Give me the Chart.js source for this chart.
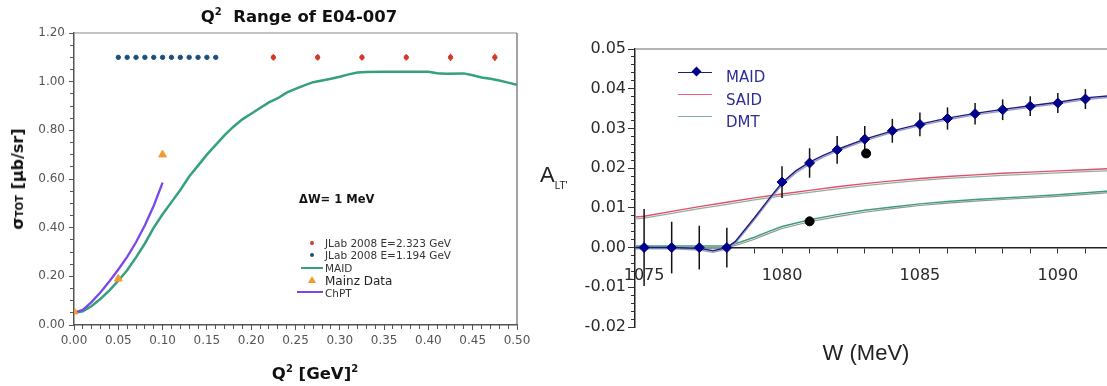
<!DOCTYPE html>
<html><head><meta charset="utf-8">
<script src="https://cdn.jsdelivr.net/npm/chart.js@4.4.1/dist/chart.umd.min.js"></script>
<style>
html,body{margin:0;padding:0;background:#fff;width:1107px;height:386px;overflow:hidden;position:relative;font-family:"DejaVu Sans",Verdana,sans-serif}
canvas{position:absolute;top:0}
.t{position:absolute;white-space:nowrap;line-height:1;transform:translateY(-50%)}
.c{transform:translate(-50%,-50%)}
.ln{position:absolute}
</style></head><body>
<canvas id="c1" width="540" height="386" style="left:0"></canvas>
<canvas id="c2" width="587" height="386" style="left:540px"></canvas>

<!-- left panel texts -->
<div class="t c" style="left:299px;top:16px;font-weight:bold;font-size:16.5px;color:#111">Q<sup style="font-size:10px;vertical-align:7px">2</sup>&nbsp; Range of E04-007</div>
<div class="t c" style="left:315px;top:373px;font-weight:bold;font-size:16.5px;color:#111">Q<sup style="font-size:10px;vertical-align:7px">2</sup> [GeV]<sup style="font-size:10px;vertical-align:7px">2</sup></div>
<div class="t" style="left:18px;top:179px;font-weight:bold;font-size:16px;color:#111;transform:translate(-50%,-50%) rotate(-90deg)">σ<span style="font-size:10px">TOT</span> [μb/sr]</div>
<div class="t" style="left:299px;top:200px;font-weight:bold;font-size:11.5px;color:#111">ΔW= 1 MeV</div>

<!-- left legend -->
<div class="ln" style="left:310px;top:241px;width:4px;height:4px;border-radius:2px;background:#d23a2a"></div>
<div class="t" style="left:325px;top:243px;font-size:10.5px;color:#333">JLab 2008 E=2.323 GeV</div>
<div class="ln" style="left:310px;top:252.5px;width:4px;height:4px;border-radius:2px;background:#1c4f7c"></div>
<div class="t" style="left:325px;top:255px;font-size:10.5px;color:#333">JLab 2008 E=1.194 GeV</div>
<div class="ln" style="left:301px;top:266.5px;width:22px;height:2.5px;background:#35a07e"></div>
<div class="t" style="left:325px;top:268px;font-size:10.5px;color:#333">MAID</div>
<div class="ln" style="left:307.5px;top:276px;width:0;height:0;border-left:4px solid transparent;border-right:4px solid transparent;border-bottom:7px solid #f29a2e"></div>
<div class="t" style="left:325px;top:280.5px;font-size:12px;color:#222">Mainz Data</div>
<div class="ln" style="left:297px;top:290.5px;width:26px;height:2.5px;background:#7a48ea"></div>
<div class="t" style="left:325px;top:292.5px;font-size:10.5px;color:#333">ChPT</div>

<!-- right panel texts -->
<div class="t" style="left:540px;top:177px;font-family:'Liberation Sans',Arial,sans-serif;font-size:22px;color:#222">A<span style="font-size:10px;vertical-align:-7px">LT'</span></div>
<div class="t c" style="left:866px;top:353px;font-family:'Liberation Sans',Arial,sans-serif;font-size:22px;color:#222">W (MeV)</div>

<!-- right legend -->
<div class="ln" style="left:678px;top:71.5px;width:34px;height:1.8px;background:#1c1c80"></div>
<div class="ln" style="left:692.5px;top:68px;width:7px;height:7px;background:#00008b;transform:rotate(45deg)"></div>
<div class="t" style="left:726px;top:77px;font-size:15px;color:#2e2e96">MAID</div>
<div class="ln" style="left:678px;top:93.5px;width:34px;height:1.5px;background:#e8607a"></div>
<div class="t" style="left:726px;top:99.5px;font-size:15px;color:#2e2e96">SAID</div>
<div class="ln" style="left:678px;top:115.5px;width:34px;height:1.5px;background:#7fb09c"></div>
<div class="t" style="left:726px;top:122px;font-size:15px;color:#2e2e96">DMT</div>

<script>
// ---------------- Left panel data ----------------
const q2Jlab1194 = [0.05,0.06,0.07,0.08,0.09,0.10,0.11,0.12,0.13,0.14,0.15,0.16];
const sigJlab1194 = [1.10,1.10,1.10,1.10,1.10,1.10,1.10,1.10,1.10,1.10,1.10,1.10];
const q2Jlab2323 = [0.225,0.275,0.325,0.375,0.425,0.475];
const sigJlab2323 = [1.10,1.10,1.10,1.10,1.10,1.10];
const errJlab2323 = [0.013,0.013,0.013,0.013,0.015,0.015];
const q2Mainz = [0.0,0.05,0.10];
const sigMainz = [0.055,0.19,0.70];
const q2Maid = [0.000,0.010,0.020,0.030,0.040,0.050,0.060,0.070,0.080,0.090,0.100,0.110,0.120,0.130,0.140,0.150,0.160,0.170,0.180,0.190,0.200,0.210,0.220,0.230,0.240,0.250,0.260,0.270,0.280,0.290,0.300,0.310,0.320,0.330,0.350,0.380,0.400,0.410,0.420,0.440,0.450,0.460,0.470,0.480,0.490,0.500];
const sigMaid = [0.050,0.056,0.078,0.108,0.142,0.182,0.225,0.278,0.335,0.400,0.455,0.505,0.555,0.610,0.655,0.700,0.740,0.780,0.815,0.845,0.868,0.892,0.915,0.932,0.955,0.970,0.985,0.998,1.005,1.012,1.020,1.030,1.038,1.040,1.041,1.041,1.041,1.035,1.033,1.034,1.026,1.017,1.012,1.005,0.996,0.987];
const q2Chpt = [0.00,0.01,0.02,0.03,0.04,0.05,0.06,0.07,0.08,0.09,0.10];
const sigChpt = [0.050,0.062,0.095,0.135,0.180,0.228,0.280,0.340,0.410,0.490,0.585];
const leftXTicks = {min:0, max:0.5, major:0.05, minor:0.01};
const leftYTicks = {min:0, max:1.2, major:0.2, minor:0.05};

// ---------------- Right panel data ----------------
const wMaidPts = [1075,1076,1077,1078,1080,1081,1082,1083,1084,1085,1086,1087,1088,1089,1090,1091];
const aMaidPts = [0,0,0,0,0.0165,0.0213,0.0246,0.0273,0.0294,0.0310,0.0325,0.0337,0.0347,0.0356,0.0364,0.0374];
const errMaidPts = [0.0097,0.0065,0.0055,0.0050,0.0040,0.0037,0.0035,0.0033,0.0030,0.0030,0.0028,0.0027,0.0026,0.0025,0.0025,0.0025];
const wMaidCurve = [1074.7,1075,1076,1077,1077.5,1078,1078.3,1079,1079.5,1080,1080.5,1081,1081.5,1082,1083,1084,1085,1086,1087,1088,1089,1090,1091,1092];
const aMaidCurve = [0,0,0,-0.0002,-0.0008,0,0.0015,0.0075,0.0120,0.0163,0.0193,0.0215,0.0232,0.0247,0.0273,0.0294,0.0311,0.0326,0.0338,0.0348,0.0357,0.0366,0.0377,0.0383];
const aMaidCurve2 = [-0.0003,-0.0003,-0.0003,-0.0006,-0.0012,-0.0004,0.0010,0.0070,0.0115,0.0158,0.0188,0.0210,0.0228,0.0243,0.0269,0.0290,0.0307,0.0322,0.0334,0.0344,0.0353,0.0362,0.0373,0.0379];
const wSaid = [1074.7,1075,1076,1077,1078,1079,1080,1081,1082,1083,1084,1085,1086,1087,1088,1089,1090,1091,1092];
const aSaid = [0.0077,0.0079,0.0091,0.0103,0.0114,0.0125,0.0135,0.0144,0.0153,0.0161,0.0168,0.0174,0.0179,0.0183,0.0187,0.0190,0.0193,0.0196,0.0199];
const aSaid2 = [0.0072,0.0074,0.0086,0.0098,0.0109,0.0120,0.0130,0.0139,0.0148,0.0156,0.0163,0.0169,0.0174,0.0178,0.0182,0.0185,0.0188,0.0191,0.0194];
const wDmt = [1074.7,1075,1076,1077,1078,1078.5,1079,1079.5,1080,1081,1082,1083,1084,1085,1086,1087,1088,1089,1090,1091,1092];
const aDmt = [0.0004,0.0004,0.0004,0.0004,0.0004,0.0014,0.0026,0.0040,0.0053,0.0070,0.0083,0.0094,0.0102,0.0110,0.0116,0.0121,0.0125,0.0129,0.0133,0.0138,0.0143];
const aDmt2 = [0,0,0,0,0,0.0009,0.0021,0.0035,0.0048,0.0065,0.0078,0.0089,0.0098,0.0106,0.0112,0.0117,0.0121,0.0125,0.0129,0.0134,0.0139];
const wBlack = [1081,1083.05];
const aBlack = [0.0066,0.0237];
const rightXTicks = {min:1074.67, max:1092.04, major:5, minor:1};
const rightYTicks = {min:-0.02, max:0.05, major:0.01, minor:0.002};

const pts = (xs, ys) => xs.map((x,i)=>({x, y: ys[i]}));

const errorBarPlugin = {
  id: 'errorBars',
  beforeDatasetDraw(chart, args) {
    const ds = chart.data.datasets[args.index];
    if (!ds.errorBars) return;
    const xs = chart.scales[args.meta.xAxisID], ys = chart.scales[args.meta.yAxisID];
    const ctx = chart.ctx;
    ctx.save();
    ctx.strokeStyle = ds.errorBarColor; ctx.lineWidth = ds.errorBarWidth || 1;
    ds.data.forEach((p,i) => {
      const e = ds.errorBars[i];
      const x = xs.getPixelForValue(p.x);
      ctx.beginPath();
      ctx.moveTo(x, ys.getPixelForValue(p.y - e));
      ctx.lineTo(x, ys.getPixelForValue(p.y + e));
      ctx.stroke();
    });
    ctx.restore();
  }
};
const framePlugin = {
  id: 'frame',
  beforeDatasetsDraw(chart, args, opts) {
    const {left,right,top} = chart.chartArea;
    const ctx = chart.ctx;
    ctx.save();
    ctx.lineWidth = opts.width || 1;
    if (opts.top) { ctx.strokeStyle = opts.top; ctx.beginPath(); ctx.moveTo(left, top); ctx.lineTo(right, top); ctx.stroke(); }
    if (opts.right) { ctx.strokeStyle = opts.right; ctx.beginPath(); ctx.moveTo(right, top); ctx.lineTo(right, chart.chartArea.bottom); ctx.stroke(); }
    ctx.restore();
  }
};
Chart.register(errorBarPlugin, framePlugin);

const lineDs = (xs, ys, color, width) => ({type:'line', data: pts(xs, ys), borderColor: color, borderWidth: width, pointRadius: 0, fill:false, tension: 0});

// ---------------- Left chart ----------------
new Chart(document.getElementById('c1'), {
  type: 'line',
  data: { datasets: [
    {data: pts(q2Mainz, sigMainz), showLine:false, pointStyle:'triangle', pointRadius:4.5, backgroundColor:'#f29a2e', borderColor:'#f29a2e', borderWidth:1},
    {data: pts(q2Jlab2323, sigJlab2323), showLine:false, pointStyle:'circle', pointRadius:2.2, backgroundColor:'#d23a2a', borderColor:'#d23a2a', errorBars: errJlab2323, errorBarColor:'#d23a2a', errorBarWidth:1.5},
    {data: pts(q2Jlab1194, sigJlab1194), showLine:false, pointStyle:'circle', pointRadius:2.2, backgroundColor:'#1c4f7c', borderColor:'#1c4f7c'},
    lineDs(q2Chpt, sigChpt, '#7a48ea', 2.3),
    lineDs(q2Maid, sigMaid, '#35a07e', 2.5)
  ]},
  options: {
    responsive:false, animation:false, devicePixelRatio:1,
    layout:{padding:{left:0,top:33,right:23,bottom:0}},
    plugins:{legend:{display:false}, tooltip:{enabled:false}, frame:{top:'#8a8a8a', right:'#666', width:1.2}},
    scales:{
      x:{type:'linear', position:'bottom', min:leftXTicks.min, max:leftXTicks.max,
         ticks:{stepSize:leftXTicks.major, maxRotation:0, minRotation:0, autoSkip:false, padding:4, color:'#555', font:{family:'DejaVu Sans', size:12}, callback:v=>v.toFixed(2)},
         grid:{drawOnChartArea:false, tickLength:5, color:'#555'}, border:{color:'#555', width:1.5},
         afterFit:s=>{s.height=61;}},
      xm:{type:'linear', axis:'x', position:{y:0}, min:leftXTicks.min, max:leftXTicks.max,
         ticks:{stepSize:leftXTicks.minor, display:false, autoSkip:false}, grid:{drawOnChartArea:false, tickLength:4, color:'#555'}, border:{display:false}},
      y:{type:'linear', position:'left', min:leftYTicks.min, max:leftYTicks.max,
         ticks:{stepSize:leftYTicks.major, padding:4, color:'#555', font:{family:'DejaVu Sans', size:12}, callback:v=>v.toFixed(2)},
         grid:{drawOnChartArea:false, tickLength:5, color:'#555'}, border:{color:'#555', width:1.5},
         afterFit:s=>{s.width=74;}},
      ym:{type:'linear', axis:'y', position:{x:0}, min:leftYTicks.min, max:leftYTicks.max,
         ticks:{stepSize:leftYTicks.minor, display:false}, grid:{drawOnChartArea:false, tickLength:4, color:'#555'}, border:{display:false}}
    }
  }
});

// ---------------- Right chart ----------------
new Chart(document.getElementById('c2'), {
  type: 'line',
  data: { datasets: [
    {data: pts(wBlack, aBlack), showLine:false, pointStyle:'circle', pointRadius:4.5, backgroundColor:'#000', borderColor:'#000'},
    {data: pts(wMaidPts, aMaidPts), showLine:false, pointStyle:'rectRot', pointRadius:5, backgroundColor:'#00008b', borderColor:'#00008b', errorBars: errMaidPts, errorBarColor:'#111', errorBarWidth:1.5},
    lineDs(wMaidCurve, aMaidCurve, '#1c1c7c', 1.4),
    lineDs(wMaidCurve, aMaidCurve2, '#9a9acc', 1.4),
    lineDs(wSaid, aSaid, '#e0506a', 1.4),
    lineDs(wSaid, aSaid2, '#94ad9e', 1.2),
    lineDs(wDmt, aDmt, '#3f9c78', 1.4),
    lineDs(wDmt, aDmt2, '#8a968f', 1.2)
  ]},
  options: {
    responsive:false, animation:false, devicePixelRatio:1,
    layout:{padding:{left:0,top:49,right:0,bottom:59}},
    plugins:{legend:{display:false}, tooltip:{enabled:false}, frame:{top:'#9a9a9a', width:1.5}},
    scales:{
      x:{type:'linear', position:{y:0}, min:rightXTicks.min, max:rightXTicks.max,
         ticks:{stepSize:rightXTicks.minor, includeBounds:false, autoSkip:false, maxRotation:0, minRotation:0, padding:14, color:'#2a2a2a', font:{family:'DejaVu Sans', size:16},
                callback:v=> (Math.abs(v % rightXTicks.major) < 1e-6 ? String(v) : '')},
         grid:{drawOnChartArea:false, tickLength:5, color:'#333'}, border:{color:'#222', width:1.5}},
      y:{type:'linear', position:'left', min:rightYTicks.min, max:rightYTicks.max,
         ticks:{stepSize:rightYTicks.major, padding:2, color:'#2a2a2a', font:{family:'DejaVu Sans', size:16},
                callback:v=> (Math.abs(v) < 1e-9 ? '0.00' : v.toFixed(2))},
         grid:{drawOnChartArea:false, tickLength:7, color:'#333'}, border:{color:'#222', width:1.5},
         afterFit:s=>{s.width=95;}},
      ym:{type:'linear', axis:'y', position:{x:rightXTicks.min}, min:rightYTicks.min, max:rightYTicks.max,
         ticks:{stepSize:rightYTicks.minor, display:false}, grid:{drawOnChartArea:false, tickLength:4, color:'#333'}, border:{display:false}}
    }
  }
});
</script>
</body></html>
